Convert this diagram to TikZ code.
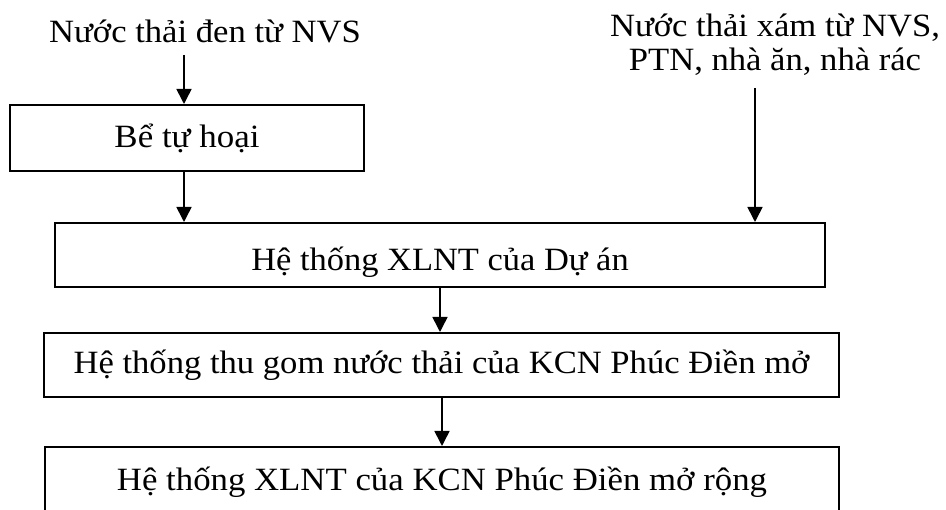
\documentclass[tikz,border=0pt]{standalone}
\usepackage{fontspec}
\usepackage{graphicx}
\setmainfont{Liberation Serif}
\usetikzlibrary{arrows.meta}
% horizontally widened label text
\newcommand{\wtxt}[2]{\scalebox{#1}[1]{#2}}
\begin{document}
\begin{tikzpicture}[x=1pt,y=-1pt,
  every node/.style={font=\fontsize{32.5}{34}\selectfont, inner sep=0pt},
  stage/.style={draw, line width=2pt, rectangle, text depth=0pt},
  flow/.style={line width=1.6pt, -{Triangle[length=15pt,width=15pt]}}]
  \useasboundingbox (0,0) rectangle (946,510);
  \begin{scope}
  \clip (0,0) rectangle (946,510);
  % sources
  \node[anchor=base] (src1) at (205,43) {\wtxt{1.065}{Nước thải đen từ NVS}};
  \node[anchor=base, align=center] (src2) at (775,71)
    {\wtxt{1.065}{Nước thải xám từ NVS,}\\\wtxt{1.065}{PTN, nhà ăn, nhà rác}};
  % treatment stages
  \node[stage, minimum width=354pt, minimum height=66pt, text height=19.4pt] (tank) at (187,138)
    {\wtxt{1.075}{Bể tự hoại}};
  \node[stage, minimum width=770pt, minimum height=64pt, text height=32pt] (plant) at (440,255)
    {\wtxt{1.06}{Hệ thống XLNT của Dự án}};
  \node[stage, minimum width=795pt, minimum height=64pt, text height=18pt] (collect) at (441.5,365)
    {\wtxt{1.065}{Hệ thống thu gom nước thải của KCN Phúc Điền mở}};
  \node[stage, minimum width=794pt, minimum height=70pt, text height=17.4pt] (zone) at (442,482)
    {\wtxt{1.07}{Hệ thống XLNT của KCN Phúc Điền mở rộng}};
  % flow start points below the source labels
  \coordinate (s1) at (184,55);
  \coordinate (s2) at (755,88);
  \draw[flow] (s1) -- (s1 |- tank.north);
  \draw[flow] (tank.south -| s1) -- (s1 |- plant.north);
  \draw[flow] (s2) -- (s2 |- plant.north);
  \draw[flow] (plant.south) -- (plant.south |- collect.north);
  \draw[flow] (collect.south -| zone.north) -- (zone.north);
  \end{scope}
\end{tikzpicture}
\end{document}
